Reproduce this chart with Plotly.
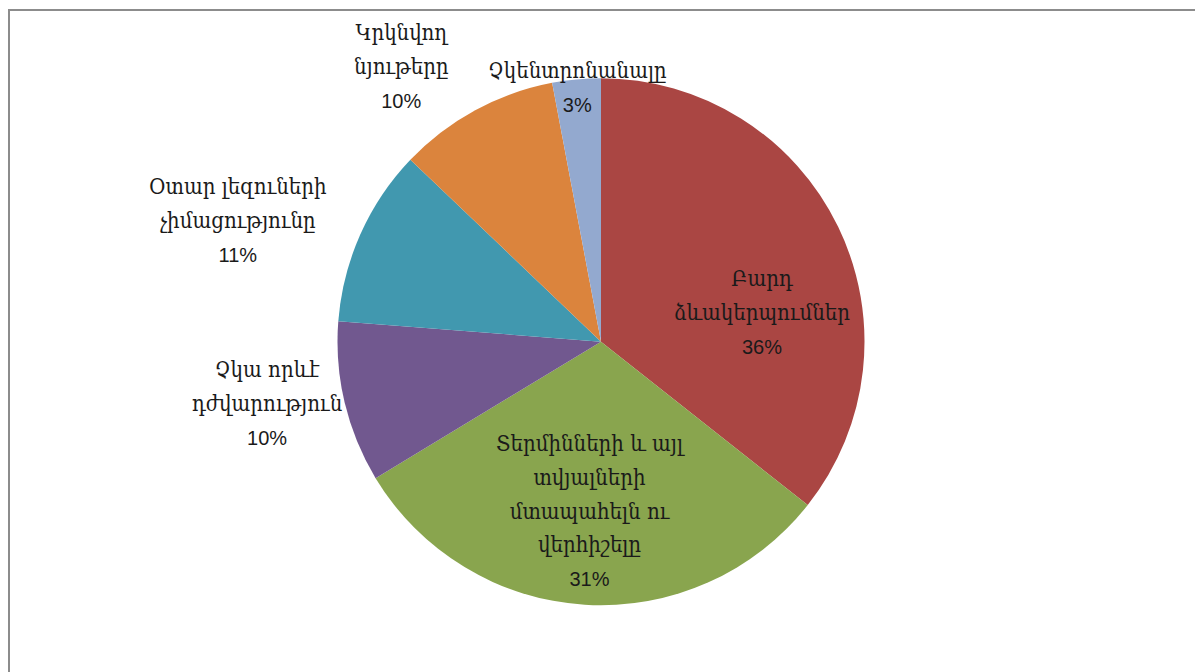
import math
import plotly.graph_objects as go

labels = [
    "Բարդ<br>ձևակերպումներ",
    "Տերմինների և այլ<br>տվյալների<br>մտապահելն ու<br>վերհիշելը",
    "Չկա որևէ<br>դժվարություն",
    "Օտար լեզուների<br>չիմացությունը",
    "Կրկնվող<br>նյութերը",
    "Չկենտրոնանալը",
]
values = [36, 31, 10, 11, 10, 3]
colors = ["#AA4643", "#89A54E", "#71588F", "#4198AF", "#DB843D", "#93A9CF"]

# label placement style: annotation at each slice's mid-angle
label_dist = [0.68, 0.64, 1.0, 1.13, 1.19, 0.97]      # radial distance, in pie radii
label_xanchor = ["center", "center", "right", "right", "right", "center"]
label_yanchor = ["top", "middle", "middle", "middle", "middle", "middle"]

W, H = 1203, 672
cx, cy, r = 593, 333.7, 263.5   # pixel geometry of the pie inside the figure

ARM_FONT = "DejaVu Serif Condensed, DejaVu Serif"
TXT_COLOR = "#1a1a1a"
LINE_SPAN = "<span style='font-size:22px'>{}</span>"
PCT_SPAN = "<span style='font-family:Liberation Sans;font-size:20px'>{}</span>"

fig = go.Figure(go.Pie(
    labels=labels,
    values=values,
    sort=False,
    direction="clockwise",
    rotation=0,
    marker=dict(colors=colors, line=dict(width=0)),
    textinfo="none",
    showlegend=False,
    hoverinfo="label+percent",
    domain=dict(x=[(cx - r) / W, (cx + r) / W], y=[(H - cy - r) / H, (H - cy + r) / H]),
))

total = sum(values)
annotations = []
cum = 0.0
for lab, v, k, xa, ya in zip(labels, values, label_dist, label_xanchor, label_yanchor):
    start = cum / total * 2 * math.pi
    cum += v
    end = cum / total * 2 * math.pi
    mid = (start + end) / 2
    px = cx + k * r * math.sin(mid)
    py = cy - k * r * math.cos(mid)
    text = "<br>".join(LINE_SPAN.format(s) for s in lab.split("<br>"))
    text += "<br>" + PCT_SPAN.format(f"{v / total:.0%}")
    annotations.append(dict(
        x=px / W, y=1 - py / H, xref="paper", yref="paper",
        xanchor=xa, yanchor=ya, align="center", showarrow=False,
        text=text,
        font=dict(family=ARM_FONT, size=26, color=TXT_COLOR),
    ))

fig.update_layout(
    width=W, height=H,
    margin=dict(l=0, r=0, t=0, b=0),
    paper_bgcolor="white",
    plot_bgcolor="white",
    annotations=annotations,
    shapes=[dict(type="rect", xref="paper", yref="paper",
                 x0=1 / W, x1=1188 / W, y0=1 / H, y1=1 - 2 / H,
                 line=dict(color="#8c8c8c", width=2), fillcolor="rgba(0,0,0,0)")],
)

fig.write_html("out.html")
